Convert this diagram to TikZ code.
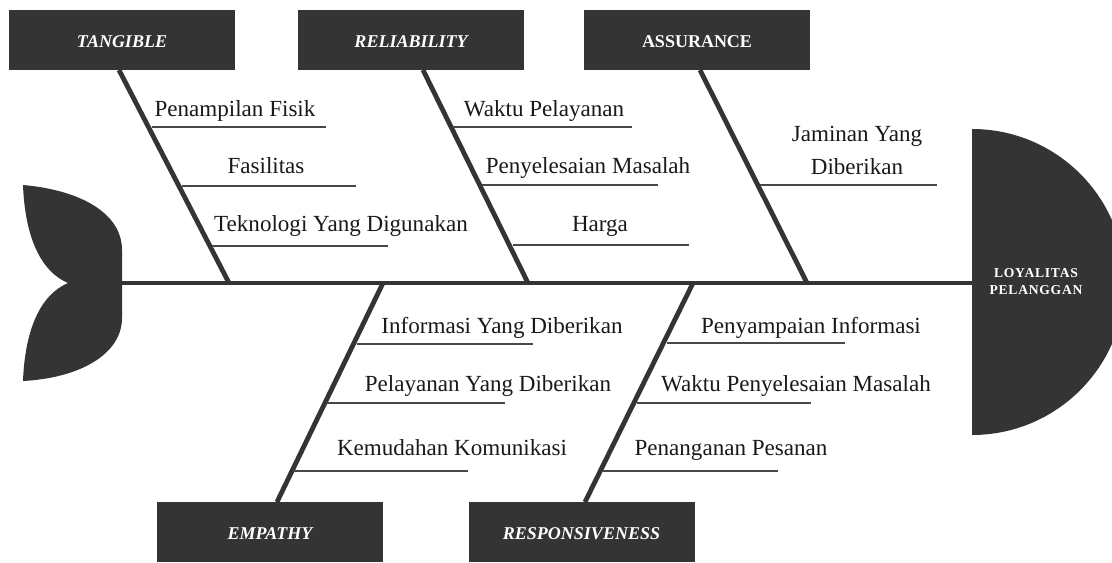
\documentclass[tikz,border=0pt]{standalone}
\usepackage{fontspec}
\setmainfont{Liberation Serif}
\newfontfamily\headfont[LetterSpace=5.5]{Liberation Serif}
\definecolor{dk}{RGB}{52,52,52}
\begin{document}
\begin{tikzpicture}[x=0.75pt,y=-0.75pt,
  catbox/.style={fill=dk, minimum width=169.5pt, minimum height=45pt, inner sep=0pt, text=white,
    text height=11.9pt, text depth=0pt,
    font=\fontsize{13.5}{16}\selectfont\bfseries\itshape},
  bone/.style={draw=dk, line width=3.6pt},
  subline/.style={draw=dk!90, line width=1.9pt},
  cause/.style={font=\fontsize{17.3}{24.75}\selectfont, text=black!90, anchor=base, inner sep=0pt},
]
\useasboundingbox (0,0) rectangle (1112,563);
\clip (0,0) rectangle (1112,563);

% category boxes
\node[catbox] (tang) at (122,40) {TANGIBLE};
\node[catbox] (rel) at (411,40) {RELIABILITY};
\node[catbox, font=\fontsize{13.5}{16}\selectfont\bfseries] (ass) at (697,40) {ASSURANCE};
\node[catbox] (emp) at (270,532) {EMPATHY};
\node[catbox] (resp) at (581.5,532) {RESPONSIVENESS};

% tail
\fill[dk] (23,185) .. controls (80,190) and (122,213) .. (122,250)
  -- (122,318) .. controls (122,354) and (80,378) .. (23,381)
  .. controls (25,330) and (40,295) .. (68,283)
  .. controls (40,271) and (25,236) .. (23,185) -- cycle;
\coordinate (tail) at (121,283);

% head
\fill[dk] (972,129) arc[start angle=90, end angle=-90, radius=114.75pt] -- cycle;
\coordinate (headw) at (973,283);
\node[font=\headfont\fontsize{10.2}{12.75}\selectfont\bfseries, text=white, align=center, inner sep=0pt]
  (head) at (1036,282) {LOYALITAS\\PELANGGAN};

% spine
\draw[bone] (tail) -- (headw);

% bone end points
\coordinate (tangT) at (119,70);  \coordinate (tangB) at (229,283);
\coordinate (relT) at (423,70);   \coordinate (relB) at (528,283);
\coordinate (assT) at (700,70);   \coordinate (assB) at (807,283);
\coordinate (empT) at (383,283);  \coordinate (empB) at (277,502);
\coordinate (resT) at (693,283);  \coordinate (resB) at (585,502);
\draw[bone] (tangT) -- (tangB);
\draw[bone] (relT) -- (relB);
\draw[bone] (assT) -- (assB);
\draw[bone] (empT) -- (empB);
\draw[bone] (resT) -- (resB);

% sub-cause lines
\coordinate (a1) at (152,127); \coordinate (a1e) at (326,127);
\coordinate (a2) at (182,186); \coordinate (a2e) at (356,186);
\coordinate (a3) at (212,246); \coordinate (a3e) at (388,246);
\coordinate (b1) at (453,127); \coordinate (b1e) at (632,127);
\coordinate (b2) at (482,185); \coordinate (b2e) at (658,185);
\coordinate (b3) at (513,245); \coordinate (b3e) at (689,245);
\coordinate (c1) at (760,185); \coordinate (c1e) at (937,185);
\coordinate (d1) at (357,344); \coordinate (d1e) at (533,344);
\coordinate (d2) at (327,403); \coordinate (d2e) at (505,403);
\coordinate (d3) at (293,471); \coordinate (d3e) at (468,471);
\coordinate (e1) at (667,343); \coordinate (e1e) at (845,343);
\coordinate (e2) at (637,403); \coordinate (e2e) at (811,403);
\coordinate (e3) at (603,471); \coordinate (e3e) at (778,471);
\foreach \p in {a1,a2,a3,b1,b2,b3,c1,d1,d2,d3,e1,e2,e3}
  \draw[subline] (\p) -- (\p e);

% cause labels
\node[cause] (ta) at (235,117) {Penampilan Fisik};
\node[cause] (tb) at (266,173) {Fasilitas};
\node[cause] (tc) at (341,231) {Teknologi Yang Digunakan};
\node[cause] (ra) at (544,117) {Waktu Pelayanan};
\node[cause] (rb) at (588,173) {Penyelesaian Masalah};
\node[cause] (rc) at (600,231) {Harga};
\node[cause, align=center, anchor=north] (aa) at (857,126) {Jaminan Yang\\Diberikan};
\node[cause] (ea) at (502,333) {Informasi Yang Diberikan};
\node[cause] (eb) at (488,391) {Pelayanan Yang Diberikan};
\node[cause] (ec) at (452,455) {Kemudahan Komunikasi};
\node[cause] (sa) at (811,333) {Penyampaian Informasi};
\node[cause] (sb) at (796,391) {Waktu Penyelesaian Masalah};
\node[cause] (sc) at (731,455) {Penanganan Pesanan};
\end{tikzpicture}
\end{document}
